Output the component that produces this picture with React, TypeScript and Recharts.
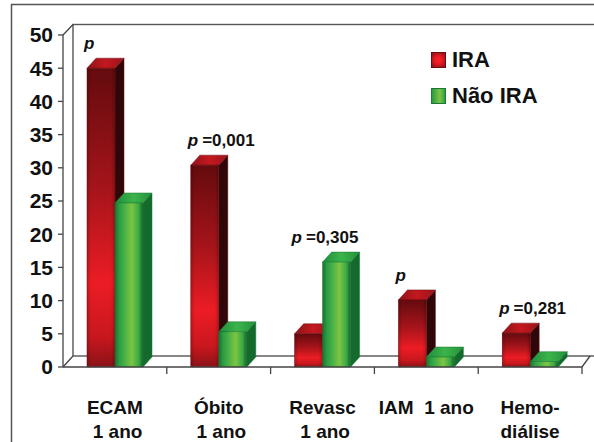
import React from 'react';
import { BarChart, Bar, XAxis, YAxis, Legend } from 'recharts';

// categories (lines of each x label)
const categories = [
  ['ECAM', '\u00a01 ano'],
  ['Óbito', '\u00a01 ano'],
  ['Revasc', '\u00a01 ano'],
  ['IAM\u00a0\u00a01 ano'],
  ['Hemo-', 'diálise'],
];
const iraValues = [45, 30.4, 5, 10.1, 5.1];
const naoIraValues = [24.7, 5.3, 15.8, 1.5, 0.8];
const pValues = ['', '=0,001', '=0,305', '', '=0,281'];
const yTicks = [0, 5, 10, 15, 20, 25, 30, 35, 40, 45, 50];

const data = categories.map((lines, i) => ({
  name: lines.join(' '),
  lines,
  ira: iraValues[i],
  naoIra: naoIraValues[i],
  p: pValues[i],
}));

const W = 594;
const H = 442;
const FONT = '"Liberation Sans", Arial, Helvetica, sans-serif';
const PLOT_L = 63;
const PLOT_R = 582;
const PLOT_T = 35;
const PLOT_B = 367;
const DX = 9;
const DY = -10;
const AXIS = '#444';

const Box3D = (props: any) => {
  const { x, y, width, height, kind, payload } = props;
  if (x == null || height == null) return null;
  const red = kind === 'red';
  const front = red ? 'url(#redFront)' : 'url(#greenFront)';
  const top = red ? 'url(#redTop)' : 'url(#greenTop)';
  const side = red ? '#300709' : '#136a2c';
  const edge = red ? '#6a0e12' : '#1a7a33';
  let label = null;
  if (red && payload) {
    const maxVal = Math.max(payload.ira, payload.naoIra);
    const per = height / payload.ira;
    const yTop = y + height - maxVal * per;
    label = (
      <text x={x - 3} y={yTop + DY - 9} fontFamily={FONT} fontWeight="bold" fontSize={17} fill="#111">
        <tspan fontStyle="italic">p</tspan>
        {payload.p ? <tspan dx={4}>{payload.p}</tspan> : null}
      </text>
    );
  }
  return (
    <g>
      <polygon
        points={`${x + width},${y} ${x + width + DX},${y + DY} ${x + width + DX},${y + height + DY} ${x + width},${y + height}`}
        fill={side}
        stroke={edge}
        strokeWidth={0.5}
      />
      <polygon
        points={`${x},${y} ${x + DX},${y + DY} ${x + width + DX},${y + DY} ${x + width},${y}`}
        fill={top}
        stroke={edge}
        strokeWidth={0.5}
      />
      <rect x={x} y={y} width={width} height={height} fill={front} />
      <rect x={x} y={y} width={width} height={height} fill="url(#edgeShade)" stroke={edge} strokeWidth={0.5} />
      {label}
    </g>
  );
};

const XTick = (props: any) => {
  const { x, y, payload } = props;
  const row = data.find((d) => d.name === payload.value);
  const lines = row ? row.lines : [payload.value];
  return (
    <text x={x} y={y + 39} textAnchor="middle" fontFamily={FONT} fontWeight="bold" fontSize={19} fill="#111">
      {lines.map((l: string, i: number) => (
        <tspan key={i} x={x} dy={i === 0 ? 0 : 24}>
          {l}
        </tspan>
      ))}
    </text>
  );
};

const LegendBox = () => (
  <div style={{ fontFamily: FONT, fontWeight: 'bold', fontSize: 22, color: '#111' }}>
    {[
      { label: 'IRA', bg: 'radial-gradient(circle, #f21d25 30%, #8a1217 100%)', bd: '#6a0e12' },
      { label: 'Não IRA', bg: 'linear-gradient(90deg, #2a9a3e, #7cc542 60%, #2f9e40)', bd: '#1a7a33' },
    ].map((it) => (
      <div key={it.label} style={{ display: 'flex', alignItems: 'center', height: 36 }}>
        <span
          style={{
            display: 'inline-block',
            width: 13,
            height: 14,
            background: it.bg,
            border: `1px solid ${it.bd}`,
            marginRight: 6,
          }}
        />
        <span>{it.label}</span>
      </div>
    ))}
  </div>
);

export default function App() {
  const band = (PLOT_R - PLOT_L) / categories.length;
  const bounds = categories.map((_, i) => PLOT_L + band * (i + 1));
  return (
    <div style={{ position: 'absolute', left: 0, top: 0, width: W, height: H, background: '#fff' }}>
      <svg width={W} height={H} style={{ position: 'absolute', left: 0, top: 0 }}>
        <path d={`M11.5 ${H} V4.5 H${W}`} fill="none" stroke="#555" strokeWidth={1.5} />
        <rect
          x={PLOT_L + 10}
          y={PLOT_T - 10.5}
          width={PLOT_R - PLOT_L + 8}
          height={PLOT_B - PLOT_T - 0.5}
          fill="#fff"
          stroke="#555"
          strokeWidth={1.4}
        />
        <line x1={PLOT_L} y1={PLOT_T} x2={PLOT_L + 10} y2={PLOT_T - 10.5} stroke={AXIS} strokeWidth={1.3} />
        <line x1={PLOT_L} y1={PLOT_B} x2={PLOT_L + 10} y2={PLOT_B - 11} stroke={AXIS} strokeWidth={1.3} />
        <line x1={PLOT_R} y1={PLOT_B} x2={PLOT_R + 8} y2={PLOT_B - 11} stroke={AXIS} strokeWidth={1.3} />
        {bounds.map((bx, i) => (
          <line key={i} x1={bx} y1={PLOT_B} x2={bx} y2={PLOT_B + 7} stroke={AXIS} strokeWidth={1.3} />
        ))}
      </svg>
      <div style={{ position: 'absolute', left: 0, top: 0 }}>
        <BarChart
          width={W}
          height={H}
          data={data}
          margin={{ top: PLOT_T, right: W - PLOT_R, bottom: 5, left: 0 }}
          barGap={0}
          barSize={28}
        >
          <defs>
            <linearGradient id="redFront" x1="0" y1="0" x2="0" y2="1">
              <stop offset="0" stopColor="#640b0e" />
              <stop offset="0.4" stopColor="#a5141a" />
              <stop offset="0.72" stopColor="#ec1c24" />
              <stop offset="0.9" stopColor="#c8171e" />
              <stop offset="1" stopColor="#8a1217" />
            </linearGradient>
            <linearGradient id="greenFront" x1="0" y1="0" x2="1" y2="0">
              <stop offset="0" stopColor="#1f8a3a" />
              <stop offset="0.25" stopColor="#36a847" />
              <stop offset="0.6" stopColor="#7cc542" />
              <stop offset="0.85" stopColor="#3aa946" />
              <stop offset="1" stopColor="#1c7e35" />
            </linearGradient>
            <linearGradient id="edgeShade" x1="0" y1="0" x2="1" y2="0">
              <stop offset="0" stopColor="#000" stopOpacity="0.18" />
              <stop offset="0.15" stopColor="#000" stopOpacity="0" />
              <stop offset="0.85" stopColor="#000" stopOpacity="0" />
              <stop offset="1" stopColor="#000" stopOpacity="0.2" />
            </linearGradient>
            <linearGradient id="redTop" x1="0" y1="0" x2="1" y2="0">
              <stop offset="0" stopColor="#8e1419" />
              <stop offset="0.5" stopColor="#c4181f" />
              <stop offset="1" stopColor="#9a151a" />
            </linearGradient>
            <linearGradient id="greenTop" x1="0" y1="0" x2="1" y2="0">
              <stop offset="0" stopColor="#1f8e3b" />
              <stop offset="0.5" stopColor="#3cb44b" />
              <stop offset="1" stopColor="#23913c" />
            </linearGradient>
          </defs>
          <XAxis
            dataKey="name"
            height={H - 5 - PLOT_B}
            axisLine={{ stroke: AXIS, strokeWidth: 1.3 }}
            tickLine={false}
            tick={<XTick />}
            interval={0}
          />
          <YAxis
            width={PLOT_L}
            domain={[0, 50]}
            ticks={yTicks}
            interval={0}
            axisLine={{ stroke: AXIS, strokeWidth: 1.3 }}
            tickLine={{ stroke: AXIS, strokeWidth: 1.3 }}
            tickSize={5}
            tickMargin={5}
            tick={{ fontFamily: FONT, fontWeight: 'bold', fontSize: 21, fill: '#111' }}
          />
          <Legend
            layout="vertical"
            align="center"
            verticalAlign="middle"
            content={<LegendBox />}
            wrapperStyle={{ top: 42, left: 431, width: 'auto', height: 'auto' }}
          />
          <Bar
            dataKey="ira"
            name="IRA"
            isAnimationActive={false}
            shape={(p: any) => <Box3D {...p} kind="red" />}
          />
          <Bar
            dataKey="naoIra"
            name="Não IRA"
            isAnimationActive={false}
            shape={(p: any) => <Box3D {...p} kind="green" />}
          />
        </BarChart>
      </div>
    </div>
  );
}
